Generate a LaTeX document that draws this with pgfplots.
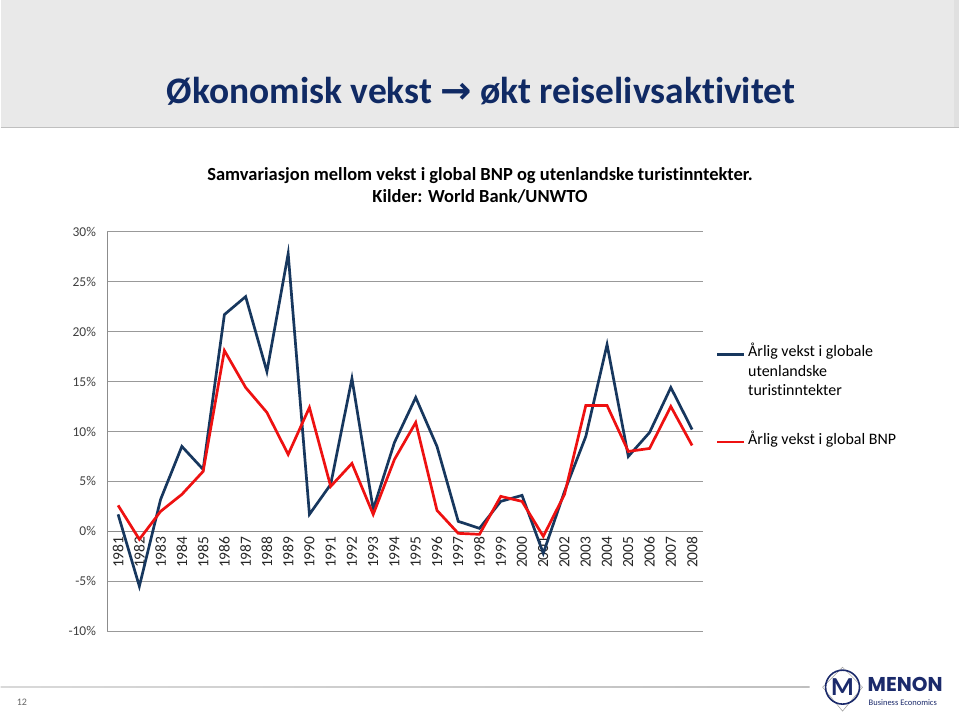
\documentclass[border=0pt]{standalone}
\usepackage{fontspec}
\setmainfont{Carlito}[Ligatures={TeX,NoCommon}]
\newfontfamily\dejavu{DejaVu Sans}
\newfontfamily\poppins{Poppins}
\usepackage{pgfplots}
\usepackage{pgfplotstable}
\pgfplotsset{compat=1.18}
\definecolor{navy}{HTML}{17375E}
\definecolor{titleblue}{HTML}{102A64}
\definecolor{bnpred}{HTML}{EE1111}
\definecolor{headgray}{HTML}{E9E9E9}
\definecolor{menon}{HTML}{1B2A6B}

\pgfplotstableread{
year tour bnp
1981 1.7 2.6
1982 -5.5 -0.8
1983 3.2 2.0
1984 8.5 3.7
1985 6.2 6.0
1986 21.7 18.1
1987 23.5 14.4
1988 16.0 11.9
1989 27.8 7.7
1990 1.7 12.4
1991 4.7 4.5
1992 15.3 6.8
1993 2.2 1.7
1994 8.9 7.2
1995 13.4 10.9
1996 8.5 2.1
1997 1.0 -0.2
1998 0.3 -0.3
1999 3.0 3.5
2000 3.6 3.0
2001 -2.2 -0.5
2002 4.0 3.7
2003 9.5 12.6
2004 18.7 12.6
2005 7.5 8.0
2006 9.9 8.3
2007 14.4 12.5
2008 10.2 8.6
}\data

\begin{document}
\begin{tikzpicture}[x=1pt,y=1pt]
\fill[white] (0,0) rectangle (960,715);
\fill[headgray] (0,587) rectangle (960,715);
\fill[black!12] (955,587) rectangle (960,715);
\draw[black!25, line width=1.2pt] (0,587) -- (960,587);
\node[anchor=base, text=titleblue, inner sep=0pt, font=\fontsize{37.5}{42}\selectfont\bfseries] at (481,611) {Økonomisk vekst {\dejavu\bfseries →} økt reiselivsaktivitet};
\node[anchor=base, inner sep=0pt, font=\fontsize{18.5}{22}\selectfont\bfseries] at (480,534) {Samvariasjon mellom vekst i global BNP og utenlandske turistinntekter.};
\node[anchor=base, inner sep=0pt, font=\fontsize{18.5}{22}\selectfont\bfseries] at (480,512) {Kilder: World Bank/UNWTO};

\begin{axis}[
  at={(107pt,83pt)}, anchor=south west,
  scale only axis, width=596pt, height=400pt,
  xmin=1980.5, xmax=2008.5, ymin=-10, ymax=30,
  axis x line=middle, axis y line=left,
  axis line style={draw=black!45, line width=0.8pt, -},
  hide obscured x ticks=false, hide obscured y ticks=false,
  major tick length=0pt,
  xtick={1981,1982,...,2008},
  xticklabel={\pgfmathprintnumber[1000 sep={},assume math mode=true,fixed,precision=0]{\tick}},
  x tick label style={rotate=90, anchor=east, font=\fontsize{15.5}{17}\selectfont, text=black!85, inner sep=5pt},
  ytick={-10,-5,0,5,10,15,20,25,30},
  yticklabels={-10\%,-5\%,0\%,5\%,10\%,15\%,20\%,25\%,30\%},
  y tick label style={font=\fontsize{13.5}{15}\selectfont, text=black!75, xshift=-8pt},
  ymajorgrids, grid style={black!40, line width=0.8pt},
  clip=false,
  legend style={at={(1.022,0.716)}, anchor=north west, draw=none, fill=none, inner sep=0pt,
    row sep=0pt, column sep=2.5pt, cells={anchor=base west},
    nodes={text height=11.5pt, text depth=8pt, inner sep=0pt},
    font=\fontsize{16}{19.5}\selectfont},
  legend image code/.code={\draw[#1] (0pt,0.27em) -- (27pt,0.27em);},
]
\addplot[navy, line width=2.7pt, line join=miter] table[x=year,y=tour]{\data};
\addlegendentry{Årlig vekst i globale}
\addlegendimage{empty legend}
\addlegendentry{utenlandske}
\addlegendimage{empty legend}
\addlegendentry{turistinntekter}
\addplot[bnpred, line width=2.7pt, line join=miter] table[x=year,y=bnp]{\data};
\addlegendentry[text height=41pt]{Årlig vekst i global BNP}
\end{axis}

% footer
\shade[left color=black!15, right color=black!25] (0,26.5) rectangle (810,28);
\node[anchor=base west, inner sep=0pt, text=black!60, font=\fontsize{10}{12}\selectfont] at (16,9) {12};
% logo
\draw[black!40, line width=0.5pt] (843,47) -- (823,27) -- (843,3) -- (863,27) -- cycle;
\draw[menon, line width=1.6pt] (843,27) circle (17);
\node[text=menon, inner sep=0pt, font=\fontsize{26}{28}\selectfont\bfseries] at (843,27) {M};
\node[anchor=base west, inner sep=0pt, text depth=0pt, text=menon, font=\poppins\fontsize{20}{22}\selectfont\bfseries] at (868,23) {MENON};
\node[anchor=base west, inner sep=0pt, text height=5.5pt, text depth=0pt, text=menon, font=\fontsize{8.5}{10}\selectfont] at (869,9) {Business Economics};
\end{tikzpicture}
\end{document}
